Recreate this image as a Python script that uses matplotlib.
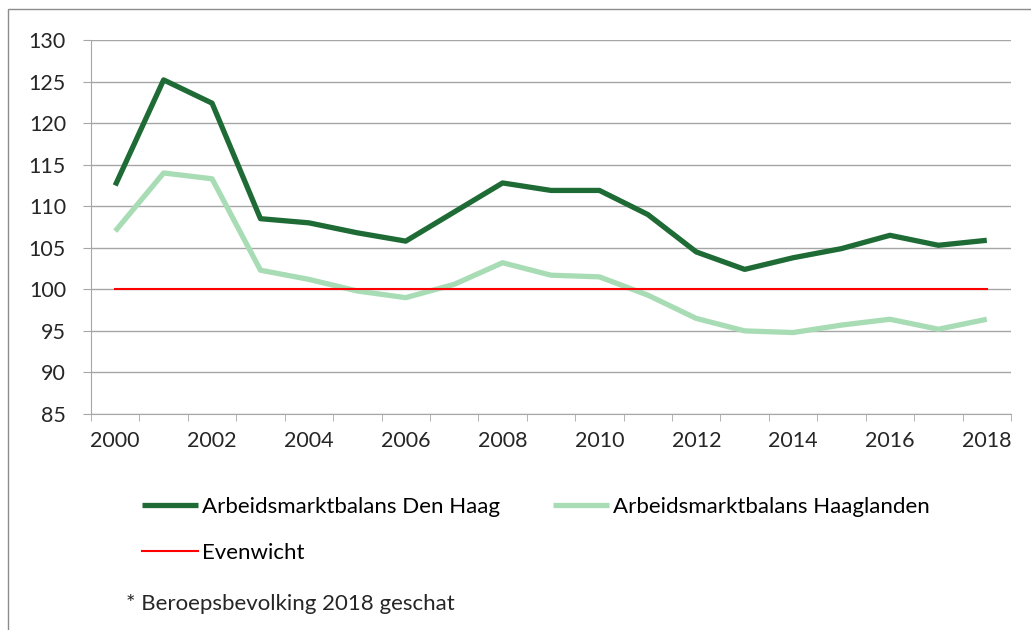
import numpy as np
import matplotlib
matplotlib.use("Agg")
import matplotlib.pyplot as plt
from matplotlib.patches import Rectangle

# data
years = list(range(2000, 2019))
den_haag = [112.5, 125.2, 122.4, 108.5, 108.0, 106.8, 105.8, 109.3, 112.8, 111.9,
            111.9, 109.0, 104.5, 102.4, 103.8, 104.9, 106.5, 105.3, 105.9]
haaglanden = [107.0, 114.0, 113.3, 102.3, 101.2, 99.8, 99.0, 100.6, 103.2, 101.7,
              101.5, 99.3, 96.5, 95.0, 94.8, 95.7, 96.4, 95.2, 96.4]
evenwicht = [100] * len(years)
labels = ["Arbeidsmarktbalans Den Haag", "Arbeidsmarktbalans Haaglanden", "Evenwicht"]
footnote = "* Beroepsbevolking 2018 geschat"

plt.rcParams['font.family'] = ['Lato', 'DejaVu Sans']
fs = 15.5
lfs = 16
grey = "#a6a6a6"

fig = plt.figure(figsize=(10.31, 6.30), dpi=100)
ax = fig.add_axes([91/1031, 1-414/630, (1011-91)/1031, (414-40)/630])

x = np.arange(len(years))
l1, = ax.plot(x, den_haag, color="#1e6b36", lw=3.8, solid_capstyle='butt', zorder=4)
l2, = ax.plot(x, haaglanden, color="#a8dcb5", lw=3.8, solid_capstyle='butt', zorder=3)
l3, = ax.plot(x, evenwicht, color="#ff0000", lw=1.5, zorder=3.5)

ax.set_xlim(-0.5, len(years) - 0.5)
ax.set_ylim(85, 130)
ax.set_yticks(np.arange(85, 131, 5))
ax.yaxis.grid(True, color=grey, lw=1)
ax.set_axisbelow(True)

ax.set_xticks(x[::2])
ax.set_xticklabels([str(y) for y in years[::2]])
ax.set_xticks(np.arange(-0.5, len(years), 1), minor=True)
ax.tick_params(axis='x', which='major', length=0, pad=12, labelsize=fs, colors='#262626')
ax.tick_params(axis='x', which='minor', length=5, color=grey, direction='out')
ax.tick_params(axis='y', length=6, color=grey, pad=12, labelsize=fs, labelcolor='#262626')

for s in ['top', 'right']:
    ax.spines[s].set_visible(False)
for s in ['left', 'bottom']:
    ax.spines[s].set_color(grey)

fig.legend([l1, l3, l2], [labels[0], labels[2], labels[1]], ncol=2,
           loc='upper left', bbox_to_anchor=(142/1031, 1-497/630),
           frameon=False, fontsize=lfs, handlelength=2.5, handletextpad=0.2,
           columnspacing=2.4, labelspacing=1.15, borderpad=0, borderaxespad=0)

fig.text(126/1031, 1-604/630, footnote, fontsize=lfs, va='center', color='#262626')

# chart frame
fig.patches.append(Rectangle((8/1031, -0.1), 1.1, 1.1 - 9/630, transform=fig.transFigure,
                             fill=False, edgecolor='#8c8c8c', lw=1))

fig.savefig("out.png", dpi=100)
